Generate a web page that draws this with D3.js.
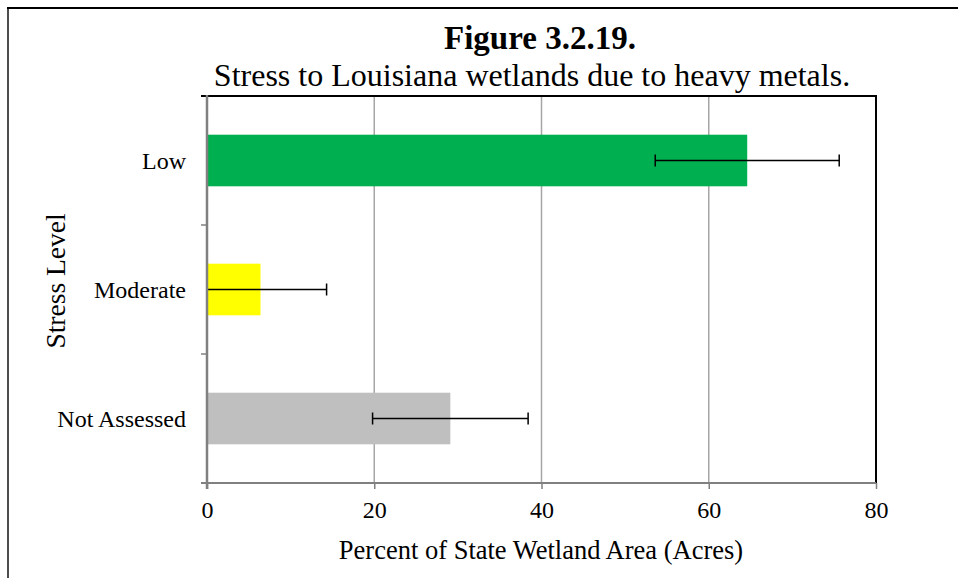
<!DOCTYPE html>
<html>
<head>
<meta charset="utf-8">
<script src="https://cdn.jsdelivr.net/npm/d3@7"></script>
<style>
  html, body { margin: 0; padding: 0; background: #fff; }
  svg { display: block; font-family: "Liberation Serif", "Times New Roman", serif; }
</style>
</head>
<body>
<svg id="chart" width="958" height="578"></svg>
<script>
// Stress levels and percent of state wetland area, with error margins
const categories = ["Low", "Moderate", "Not Assessed"];
const values = [64.6, 6.4, 29.1];
const errors = [11.0, 7.9, 9.3];
const barColors = ["#00b050", "#ffff00", "#bfbfbf"];
const xTicks = [0, 20, 40, 60, 80];

const svg = d3.select("#chart");
const W = 958, H = 578;
const plot = { left: 207, right: 876, top: 96, bottom: 483 };

// outer frame (left and top edges)
svg.append("line").attr("x1", 8).attr("x2", 8).attr("y1", 7).attr("y2", H)
  .attr("stroke", "#4d4d4d").attr("stroke-width", 2);
svg.append("line").attr("x1", 7).attr("x2", W).attr("y1", 8).attr("y2", 8)
  .attr("stroke", "#000").attr("stroke-width", 2);

// titles
svg.append("text").attr("x", 540).attr("y", 49).attr("text-anchor", "middle")
  .attr("font-size", 33).attr("font-weight", "bold").text("Figure 3.2.19.");
svg.append("text").attr("x", 532).attr("y", 86).attr("text-anchor", "middle")
  .attr("font-size", 32).text("Stress to Louisiana wetlands due to heavy metals.");

const x = d3.scaleLinear().domain([0, 80]).range([plot.left, plot.right]);
const y = d3.scaleBand().domain(categories).range([plot.top, plot.bottom]).paddingInner(0.6).paddingOuter(0.3);
const yOuter = d3.scaleBand().domain(categories).range([plot.top, plot.bottom]);

// vertical gridlines
svg.append("g").selectAll("line").data(xTicks.filter(t => t > 0 && t < 80)).join("line")
  .attr("x1", d => x(d)).attr("x2", d => x(d))
  .attr("y1", plot.top).attr("y2", plot.bottom)
  .attr("stroke", "#a6a6a6").attr("stroke-width", 1.5);

// bars
svg.append("g").selectAll("rect").data(categories).join("rect")
  .attr("x", x(0))
  .attr("y", d => y(d))
  .attr("width", (d, i) => x(values[i]) - x(0))
  .attr("height", y.bandwidth())
  .attr("fill", (d, i) => barColors[i]);

// error bars
const eb = svg.append("g").attr("stroke", "#000").attr("stroke-width", 1.5);
categories.forEach((c, i) => {
  const cy = y(c) + y.bandwidth() / 2;
  const lo = Math.max(0, values[i] - errors[i]);
  const hi = values[i] + errors[i];
  eb.append("line").attr("x1", x(lo)).attr("x2", x(hi)).attr("y1", cy).attr("y2", cy);
  eb.append("line").attr("x1", x(hi)).attr("x2", x(hi)).attr("y1", cy - 6).attr("y2", cy + 6);
  if (values[i] - errors[i] > 0) {
    eb.append("line").attr("x1", x(lo)).attr("x2", x(lo)).attr("y1", cy - 6).attr("y2", cy + 6);
  }
});

// plot border: top and right
svg.append("line").attr("x1", plot.left - 6).attr("x2", plot.right + 1)
  .attr("y1", plot.top).attr("y2", plot.top).attr("stroke", "#000").attr("stroke-width", 2);
svg.append("line").attr("x1", plot.right).attr("x2", plot.right)
  .attr("y1", plot.top).attr("y2", plot.bottom).attr("stroke", "#000").attr("stroke-width", 2);

// x axis
const xAxis = svg.append("g").attr("transform", `translate(0,${plot.bottom})`)
  .call(d3.axisBottom(x).tickValues(xTicks).tickSize(6).tickPadding(12));
xAxis.select(".domain").attr("stroke", "#808080").attr("stroke-width", 2)
  .attr("d", `M${plot.left - 6},0H${plot.right}`);
xAxis.selectAll(".tick line").attr("stroke", "#808080").attr("stroke-width", 1.5);
xAxis.selectAll(".tick text").attr("font-size", 24).attr("fill", "#000")
  .attr("font-family", "Liberation Serif, Times New Roman, serif");

// y axis: ticks at category boundaries
const yAxisG = svg.append("g");
yAxisG.append("line").attr("x1", plot.left).attr("x2", plot.left)
  .attr("y1", plot.top - 1).attr("y2", plot.bottom + 6)
  .attr("stroke", "#808080").attr("stroke-width", 2.5);
const boundaries = categories.map(c => yOuter(c)).concat([plot.bottom]);
yAxisG.selectAll("line.tk").data(boundaries.slice(1, 3)).join("line").attr("class", "tk")
  .attr("x1", plot.left - 6).attr("x2", plot.left).attr("y1", d => d).attr("y2", d => d)
  .attr("stroke", "#808080").attr("stroke-width", 1.5);
yAxisG.selectAll("text").data(categories).join("text")
  .attr("x", 186).attr("y", d => y(d) + y.bandwidth() / 2)
  .attr("dy", "0.35em").attr("text-anchor", "end").attr("font-size", 24).text(d => d);

// axis titles
svg.append("text").attr("x", 541).attr("y", 559).attr("text-anchor", "middle")
  .attr("font-size", 26.5).text("Percent of State Wetland Area (Acres)");
svg.append("text").attr("transform", "translate(65,281) rotate(-90)")
  .attr("text-anchor", "middle").attr("font-size", 27.5).text("Stress Level");
</script>
</body>
</html>
